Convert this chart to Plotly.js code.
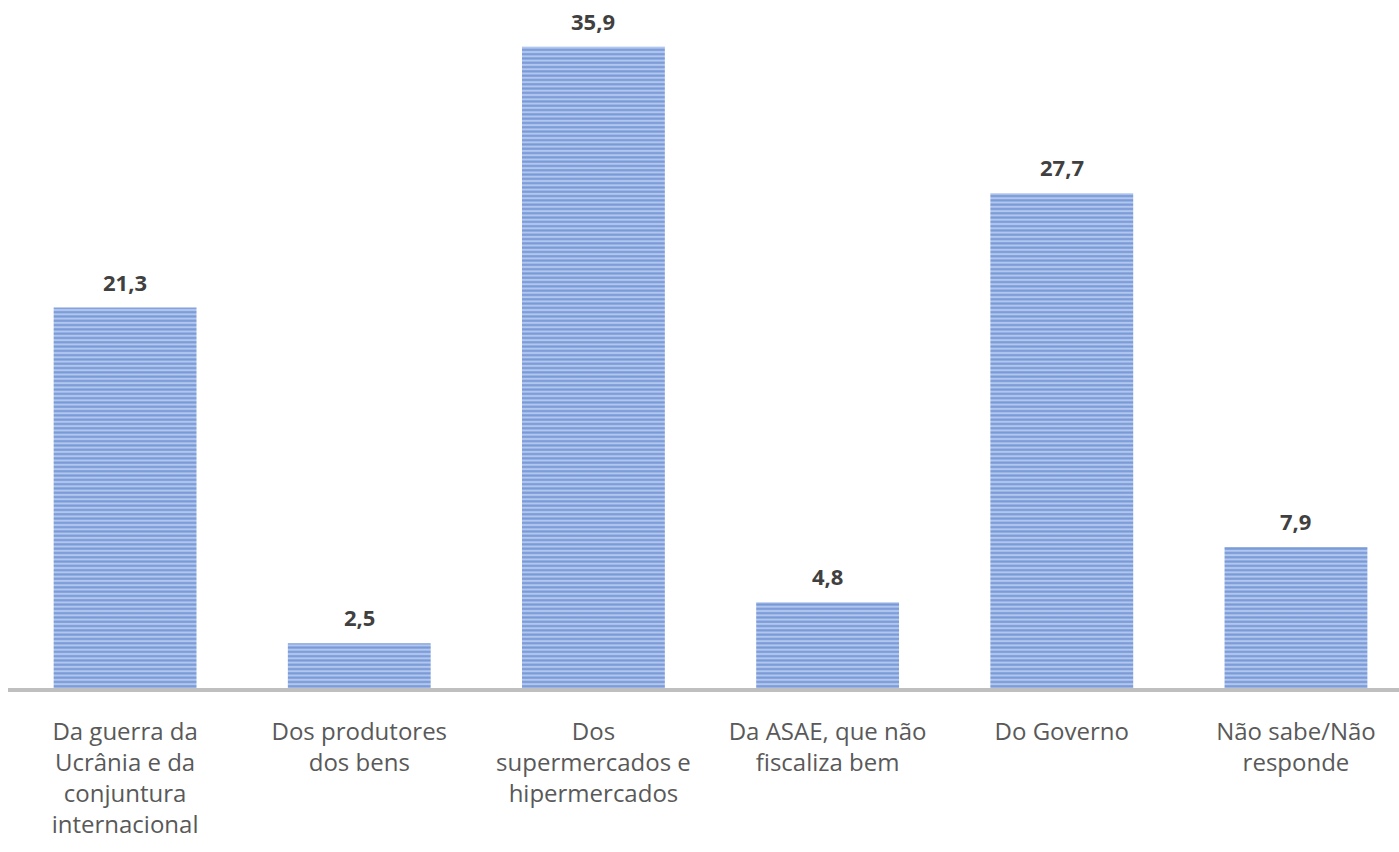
<!DOCTYPE html>
<html>
<head>
<meta charset="utf-8">
<script src="https://cdn.plot.ly/plotly-3.0.1.min.js"></script>
<style>html,body{margin:0;padding:0;background:#fff;}#chart{width:1399px;height:852px;}</style>
</head>
<body>
<div id="chart"></div>
<script>
const categories = [
  "Da guerra da<br>Ucrânia e da<br>conjuntura<br>internacional",
  "Dos produtores<br>dos bens",
  "Dos<br>supermercados e<br>hipermercados",
  "Da ASAE, que não<br>fiscaliza bem",
  "Do Governo",
  "Não sabe/Não<br>responde"
];
const values = [21.3, 2.5, 35.9, 4.8, 27.7, 7.9];
const valueLabels = ["21,3", "2,5", "35,9", "4,8", "27,7", "7,9"];

const xIdx = categories.map((c, i) => i);

const trace = {
  type: "bar",
  x: xIdx,
  y: values,
  width: 0.61,
  marker: {
    color: "#aec4ec",
    line: {width: 0},
    pattern: {shape: "-", fgcolor: "#3f6cc0", bgcolor: "#b2c7ee", size: 4.3, solidity: 0.5, fillmode: "overlay"}
  },
  hoverinfo: "skip"
};

const annotations = values.map((v, i) => ({
  x: i, y: v, xref: "x", yref: "y",
  text: "<b>" + valueLabels[i] + "</b>",
  showarrow: false, yanchor: "bottom", yshift: 9,
  font: {family: "Open Sans, sans-serif", size: 22, color: "#404040"}
}));

const layout = {
  width: 1399, height: 852,
  margin: {l: 8, r: 0, t: 9, b: 164},
  paper_bgcolor: "#ffffff", plot_bgcolor: "#ffffff",
  showlegend: false,
  xaxis: {
    range: [-0.5, 5.44],
    tickmode: "array", tickvals: xIdx, ticktext: categories,
    showgrid: false, zeroline: false,
    showline: true, linecolor: "#bfbfbf", linewidth: 4,
    ticks: "", ticklabelstandoff: 19,
    tickfont: {family: "Open Sans, sans-serif", size: 24, color: "#595959"},
    fixedrange: true
  },
  yaxis: {
    range: [0, 38.02],
    showgrid: false, zeroline: false, showline: false,
    showticklabels: false, ticks: "",
    fixedrange: true
  },
  annotations: annotations
};

Plotly.newPlot("chart", [trace], layout, {displayModeBar: false, staticPlot: true});
</script>
</body>
</html>
